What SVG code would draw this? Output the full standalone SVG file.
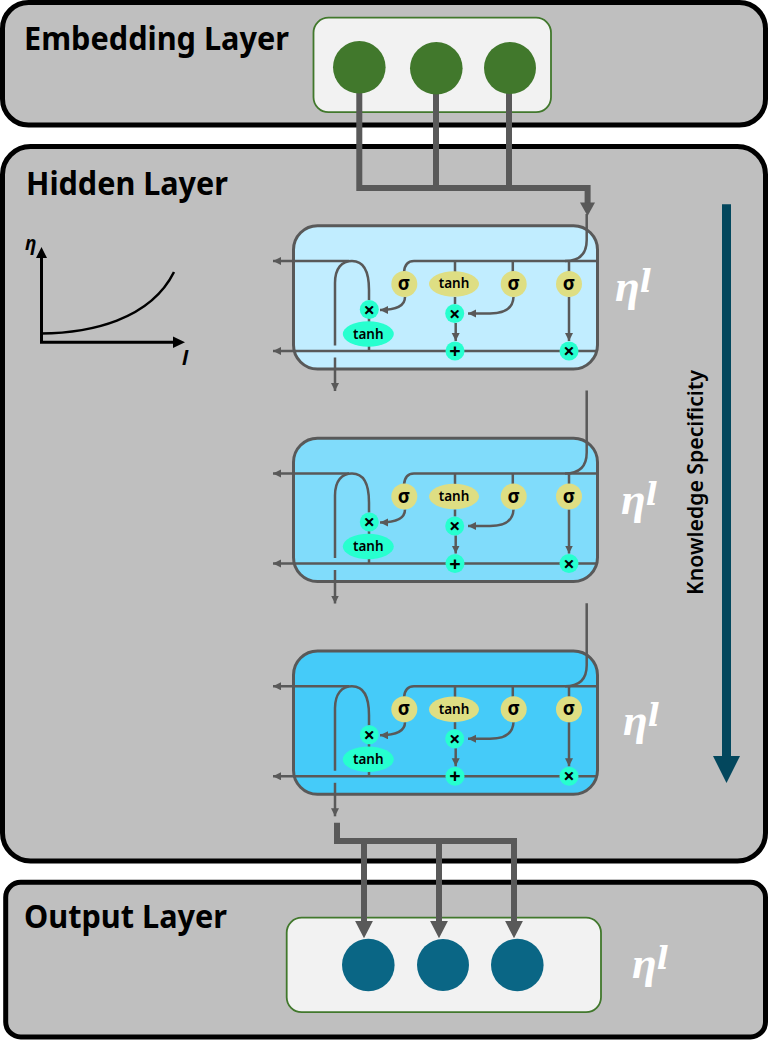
<svg xmlns="http://www.w3.org/2000/svg" width="768" height="1040" viewBox="0 0 768 1040">
<style>
text{font-family:"Noto Sans","Open Sans",sans-serif}
.layer{fill:#BFBFBF;stroke:#000;stroke-width:5}
.title{font-size:32px;font-weight:700;fill:#000}
.panel{fill:#F2F2F2;stroke:#41782C;stroke-width:1.8}
.cell{stroke:#595959;stroke-width:3}
.w{fill:none;stroke:#595959;stroke-width:2.5}
.wa{fill:none;stroke:#595959;stroke-width:2.5;marker-end:url(#sm)}
.big{fill:none;stroke:#595959;stroke-width:6}
.y{fill:#DEDE83}
.t{fill:#27FFCF}
.g{fill:#41782C}
.b{fill:#0A6685}
.lb{font-size:13.500px;font-weight:600;fill:#000;text-anchor:middle}
.sg{font-size:19px;font-weight:700;fill:#000;text-anchor:middle}
.op{font-size:20px;font-weight:700;fill:#000;text-anchor:middle}
.eta{font-family:"Liberation Serif","DejaVu Serif",serif;font-size:45px;font-style:italic;font-weight:700;fill:#fff}
.sup{font-family:"DejaVu Serif",serif;font-size:31px}
.ax{fill:none;stroke:#000;stroke-width:3}
</style>
<defs>
<marker id="sm" markerUnits="userSpaceOnUse" markerWidth="9" markerHeight="9" refX="8" refY="4" orient="auto"><path d="M0 0L8 4L0 8Z" fill="#595959"/></marker>
</defs>

<g id="embedding-layer"><rect class="layer" x="2.500" y="2.500" width="763" height="122.500" rx="26"/><text class="title" x="24" y="50" textLength="265" lengthAdjust="spacingAndGlyphs">Embedding Layer</text></g>
<g id="hidden-layer"><rect class="layer" x="2.500" y="146.500" width="763" height="714.500" rx="28"/><text class="title" x="26" y="195" textLength="202" lengthAdjust="spacingAndGlyphs">Hidden Layer</text></g>
<g id="output-layer"><rect class="layer" x="5.700" y="882.300" width="759.800" height="154.700" rx="15"/><text class="title" x="24" y="928" textLength="203" lengthAdjust="spacingAndGlyphs">Output Layer</text></g>
<rect id="embedding-panel" class="panel" x="313.500" y="17.700" width="237.500" height="94.500" rx="15"/>
<rect id="output-panel" class="panel" x="286.700" y="917.700" width="314.300" height="94.500" rx="15"/>
<rect id="cell-1" class="cell" fill="#C1EDFF" x="293.500" y="225.700" width="304" height="143.300" rx="24"/>
<rect id="cell-2" class="cell" fill="#80DCFB" x="293.500" y="438.200" width="304" height="143.300" rx="24"/>
<rect id="cell-3" class="cell" fill="#45CBF9" x="293.500" y="651" width="304" height="143.300" rx="24"/>

<g id="connectors">
<path class="big" d="M359.300 93V188H587.600V204M436 93V188M509 93V188"/>
<path d="M580 202.500H595L587.600 216Z" fill="#595959"/>
<path class="w" d="M586.700 214V240Q586.700 261 565 261"/>
<path class="big" d="M337 822.700V841H514V922M364 841V922M439 841V922"/>
<path d="M355.100 921H372.900L364 938.300ZM430.100 921H447.900L439 938.300ZM505.100 921H522.900L514 938.300Z" fill="#595959"/>
<g id="wires-1">
<path class="wa" d="M349 261H273"/>
<path class="w" d="M335 345.500V283C335 268 342 261 352 261C364 261 369 272 369 290V300"/>
<path class="w" d="M597 261H414Q405 261 404 272"/>
<path class="w" d="M455 261V272M512.800 261V272M569 261V272M369 318V322M369 346V351M455 297V304"/>
<path class="wa" d="M597 351H273"/>
<path class="wa" d="M405 297C405 306 395 310 380 310"/>
<path class="wa" d="M513.500 297C513 308 505 313.500 490 313.500H468"/>
<path class="wa" d="M455.700 323V341"/>
<path class="wa" d="M569 297V341"/>
<path class="wa" d="M335 357.500V391"/>
</g>
<g id="wires-2" transform="translate(0 212.500)">
<path class="w" d="M586.700 178V240Q586.700 261 565 261"/>
<path class="wa" d="M349 261H273"/>
<path class="w" d="M335 345.500V283C335 268 342 261 352 261C364 261 369 272 369 290V300"/>
<path class="w" d="M597 261H414Q405 261 404 272"/>
<path class="w" d="M455 261V272M512.800 261V272M569 261V272M369 318V322M369 346V351M455 297V304"/>
<path class="wa" d="M597 351H273"/>
<path class="wa" d="M405 297C405 306 395 310 380 310"/>
<path class="wa" d="M513.500 297C513 308 505 313.500 490 313.500H468"/>
<path class="wa" d="M455.700 323V341"/>
<path class="wa" d="M569 297V341"/>
<path class="wa" d="M335 357.500V391"/>
</g>
<g id="wires-3" transform="translate(0 425.300)">
<path class="w" d="M586.700 178V240Q586.700 261 565 261"/>
<path class="wa" d="M349 261H273"/>
<path class="w" d="M335 345.500V283C335 268 342 261 352 261C364 261 369 272 369 290V300"/>
<path class="w" d="M597 261H414Q405 261 404 272"/>
<path class="w" d="M455 261V272M512.800 261V272M569 261V272M369 318V322M369 346V351M455 297V304"/>
<path class="wa" d="M597 351H273"/>
<path class="wa" d="M405 297C405 306 395 310 380 310"/>
<path class="wa" d="M513.500 297C513 308 505 313.500 490 313.500H468"/>
<path class="wa" d="M455.700 323V341"/>
<path class="wa" d="M569 297V341"/>
<path class="wa" d="M335 357.500V391"/>
</g>
<path id="knowledge-arrow" d="M722 204.300H731V756H740L726.500 783L713 756H722Z" fill="#03475D"/>
</g>

<g id="embedding-nodes"><circle id="emb-1" class="g" cx="359.300" cy="67.300" r="26.300"/><circle id="emb-2" class="g" cx="436.300" cy="68.300" r="26.300"/><circle id="emb-3" class="g" cx="510" cy="68" r="26"/></g>
<g id="output-nodes"><circle id="out-1" class="b" cx="368.300" cy="965" r="26.300"/><circle id="out-2" class="b" cx="443" cy="965" r="26"/><circle id="out-3" class="b" cx="517.300" cy="965" r="26.300"/></g>

<g id="ops-1">
<g id="c1-sigma-1"><circle class="y" cx="404.300" cy="284" r="13"/><text class="sg" x="404" y="290">σ</text></g>
<g id="c1-tanh-y"><ellipse class="y" cx="454" cy="284" rx="25" ry="12.700"/><text class="lb" x="454" y="288.300">tanh</text></g>
<g id="c1-sigma-2"><circle class="y" cx="513.700" cy="284" r="13"/><text class="sg" x="513.700" y="290">σ</text></g>
<g id="c1-sigma-3"><circle class="y" cx="569" cy="284" r="13"/><text class="sg" x="569" y="290">σ</text></g>
<g id="c1-x-1"><circle class="t" cx="369.300" cy="309.500" r="9.500"/><text class="op" x="369.300" y="316.500">×</text></g>
<g id="c1-tanh-t"><ellipse class="t" cx="368.300" cy="334" rx="25.500" ry="12.700"/><text class="lb" x="368.300" y="338.500">tanh</text></g>
<g id="c1-x-2"><circle class="t" cx="454.700" cy="313.500" r="9.500"/><text class="op" x="454.700" y="320.500">×</text></g>
<g id="c1-plus"><circle class="t" cx="455" cy="351" r="9.500"/><text class="op" x="455" y="358">+</text></g>
<g id="c1-x-3"><circle class="t" cx="569" cy="351" r="9.500"/><text class="op" x="569" y="358">×</text></g>
</g>
<g id="ops-2" transform="translate(0 212.500)">
<g id="c2-sigma-1"><circle class="y" cx="404.300" cy="284" r="13"/><text class="sg" x="404" y="290">σ</text></g>
<g id="c2-tanh-y"><ellipse class="y" cx="454" cy="284" rx="25" ry="12.700"/><text class="lb" x="454" y="288.300">tanh</text></g>
<g id="c2-sigma-2"><circle class="y" cx="513.700" cy="284" r="13"/><text class="sg" x="513.700" y="290">σ</text></g>
<g id="c2-sigma-3"><circle class="y" cx="569" cy="284" r="13"/><text class="sg" x="569" y="290">σ</text></g>
<g id="c2-x-1"><circle class="t" cx="369.300" cy="309.500" r="9.500"/><text class="op" x="369.300" y="316.500">×</text></g>
<g id="c2-tanh-t"><ellipse class="t" cx="368.300" cy="334" rx="25.500" ry="12.700"/><text class="lb" x="368.300" y="338.500">tanh</text></g>
<g id="c2-x-2"><circle class="t" cx="454.700" cy="313.500" r="9.500"/><text class="op" x="454.700" y="320.500">×</text></g>
<g id="c2-plus"><circle class="t" cx="455" cy="351" r="9.500"/><text class="op" x="455" y="358">+</text></g>
<g id="c2-x-3"><circle class="t" cx="569" cy="351" r="9.500"/><text class="op" x="569" y="358">×</text></g>
</g>
<g id="ops-3" transform="translate(0 425.300)">
<g id="c3-sigma-1"><circle class="y" cx="404.300" cy="284" r="13"/><text class="sg" x="404" y="290">σ</text></g>
<g id="c3-tanh-y"><ellipse class="y" cx="454" cy="284" rx="25" ry="12.700"/><text class="lb" x="454" y="288.300">tanh</text></g>
<g id="c3-sigma-2"><circle class="y" cx="513.700" cy="284" r="13"/><text class="sg" x="513.700" y="290">σ</text></g>
<g id="c3-sigma-3"><circle class="y" cx="569" cy="284" r="13"/><text class="sg" x="569" y="290">σ</text></g>
<g id="c3-x-1"><circle class="t" cx="369.300" cy="309.500" r="9.500"/><text class="op" x="369.300" y="316.500">×</text></g>
<g id="c3-tanh-t"><ellipse class="t" cx="368.300" cy="334" rx="25.500" ry="12.700"/><text class="lb" x="368.300" y="338.500">tanh</text></g>
<g id="c3-x-2"><circle class="t" cx="454.700" cy="313.500" r="9.500"/><text class="op" x="454.700" y="320.500">×</text></g>
<g id="c3-plus"><circle class="t" cx="455" cy="351" r="9.500"/><text class="op" x="455" y="358">+</text></g>
<g id="c3-x-3"><circle class="t" cx="569" cy="351" r="9.500"/><text class="op" x="569" y="358">×</text></g>
</g>

<text class="eta" x="615" y="301">η<tspan class="sup" dy="-9">l</tspan></text>
<text class="eta" x="621" y="514">η<tspan class="sup" dy="-9">l</tspan></text>
<text class="eta" x="623" y="735">η<tspan class="sup" dy="-9">l</tspan></text>
<text class="eta" x="632" y="978">η<tspan class="sup" dy="-9">l</tspan></text>

<text id="knowledge-label" transform="translate(703 595) rotate(-90)" font-size="21" font-weight="600" fill="#000" textLength="225" lengthAdjust="spacingAndGlyphs">Knowledge Specificity</text>

<g id="graph">
<path class="ax" d="M41.500 258V342.300H174"/>
<path d="M36 258H47L41.500 247ZM173 336.500L185 342.300L173 348Z" fill="#000"/>
<path d="M41 333.500C90 333 150 320 174 272" fill="none" stroke="#000" stroke-width="2.500"/>
<text x="25" y="250" font-family="Liberation Serif" font-size="19" font-style="italic" font-weight="700" fill="#000">η</text>
<text x="182" y="365" font-family="DejaVu Serif" font-size="20" font-style="italic" font-weight="700" fill="#000">l</text>
</g>
</svg>
